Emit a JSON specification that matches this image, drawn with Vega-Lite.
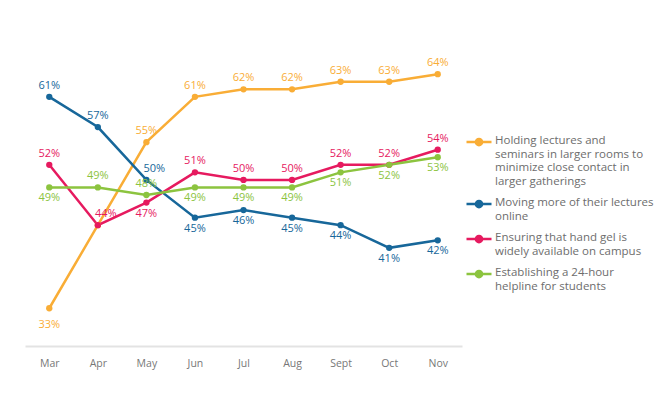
{
  "$schema": "https://vega.github.io/schema/vega-lite/v6.json",
  "width": 437,
  "height": 302,
  "autosize": "none",
  "padding": {"left": 25, "top": 44, "right": 200, "bottom": 47},
  "background": "white",
  "config": {"view": {"stroke": null}, "font": "Open Sans"},
  "data": {"values": [
    {"series": "Holding lectures and seminars in larger rooms to minimize close contact in larger gatherings", "month": "Mar", "value": 33},
    {"series": "Holding lectures and seminars in larger rooms to minimize close contact in larger gatherings", "month": "Apr", "value": 44},
    {"series": "Holding lectures and seminars in larger rooms to minimize close contact in larger gatherings", "month": "May", "value": 55},
    {"series": "Holding lectures and seminars in larger rooms to minimize close contact in larger gatherings", "month": "Jun", "value": 61},
    {"series": "Holding lectures and seminars in larger rooms to minimize close contact in larger gatherings", "month": "Jul", "value": 62},
    {"series": "Holding lectures and seminars in larger rooms to minimize close contact in larger gatherings", "month": "Aug", "value": 62},
    {"series": "Holding lectures and seminars in larger rooms to minimize close contact in larger gatherings", "month": "Sept", "value": 63},
    {"series": "Holding lectures and seminars in larger rooms to minimize close contact in larger gatherings", "month": "Oct", "value": 63},
    {"series": "Holding lectures and seminars in larger rooms to minimize close contact in larger gatherings", "month": "Nov", "value": 64},
    {"series": "Moving more of their lectures online", "month": "Mar", "value": 61},
    {"series": "Moving more of their lectures online", "month": "Apr", "value": 57},
    {"series": "Moving more of their lectures online", "month": "May", "value": 50},
    {"series": "Moving more of their lectures online", "month": "Jun", "value": 45},
    {"series": "Moving more of their lectures online", "month": "Jul", "value": 46},
    {"series": "Moving more of their lectures online", "month": "Aug", "value": 45},
    {"series": "Moving more of their lectures online", "month": "Sept", "value": 44},
    {"series": "Moving more of their lectures online", "month": "Oct", "value": 41},
    {"series": "Moving more of their lectures online", "month": "Nov", "value": 42},
    {"series": "Ensuring that hand gel is widely available on campus", "month": "Mar", "value": 52},
    {"series": "Ensuring that hand gel is widely available on campus", "month": "Apr", "value": 44},
    {"series": "Ensuring that hand gel is widely available on campus", "month": "May", "value": 47},
    {"series": "Ensuring that hand gel is widely available on campus", "month": "Jun", "value": 51},
    {"series": "Ensuring that hand gel is widely available on campus", "month": "Jul", "value": 50},
    {"series": "Ensuring that hand gel is widely available on campus", "month": "Aug", "value": 50},
    {"series": "Ensuring that hand gel is widely available on campus", "month": "Sept", "value": 52},
    {"series": "Ensuring that hand gel is widely available on campus", "month": "Oct", "value": 52},
    {"series": "Ensuring that hand gel is widely available on campus", "month": "Nov", "value": 54},
    {"series": "Establishing a 24-hour helpline for students", "month": "Mar", "value": 49},
    {"series": "Establishing a 24-hour helpline for students", "month": "Apr", "value": 49},
    {"series": "Establishing a 24-hour helpline for students", "month": "May", "value": 48},
    {"series": "Establishing a 24-hour helpline for students", "month": "Jun", "value": 49},
    {"series": "Establishing a 24-hour helpline for students", "month": "Jul", "value": 49},
    {"series": "Establishing a 24-hour helpline for students", "month": "Aug", "value": 49},
    {"series": "Establishing a 24-hour helpline for students", "month": "Sept", "value": 51},
    {"series": "Establishing a 24-hour helpline for students", "month": "Oct", "value": 52},
    {"series": "Establishing a 24-hour helpline for students", "month": "Nov", "value": 53}
  ]},
  "transform": [
    {"calculate": "datum.value + '%'", "as": "label"},
    {"calculate": "(datum.series[0] == 'H' && datum.month == 'Apr') ? 'none' : (datum.series[0] == 'H' && datum.month == 'Mar') ? 'far' : ((datum.series[0] == 'E' && datum.series[1] == 'n' && datum.month == 'Apr') || (datum.series[0] == 'M' && datum.month == 'May')) ? 'shift' : ((datum.series[0] == 'M' && indexof(['Jun','Jul','Aug','Sept','Oct','Nov'], datum.month) >= 0) || (datum.series[0] == 'E' && datum.series[1] == 'n' && datum.month == 'May') || (datum.series[0] == 'E' && datum.series[1] == 's' && indexof(['Mar','Jun','Jul','Aug','Sept','Oct','Nov'], datum.month) >= 0)) ? 'below' : 'above'", "as": "place"}
  ],
  "encoding": {
    "x": {
      "field": "month", "type": "ordinal",
      "sort": ["Mar", "Apr", "May", "Jun", "Jul", "Aug", "Sept", "Oct", "Nov"],
      "scale": {"type": "point", "padding": 0.5},
      "axis": {"title": null, "labelAngle": 0, "ticks": false, "grid": false, "domainColor": "#e3e3e3", "domainWidth": 2, "labelPadding": 12, "labelColor": "#777777", "labelFontSize": 10.5, "labelFont": "Open Sans"}
    },
    "y": {"field": "value", "type": "quantitative", "scale": {"domain": [28, 68]}, "axis": null},
    "color": {
      "field": "series", "type": "nominal",
      "scale": {
        "domain": ["Holding lectures and seminars in larger rooms to minimize close contact in larger gatherings", "Moving more of their lectures online", "Ensuring that hand gel is widely available on campus", "Establishing a 24-hour helpline for students"],
        "range": ["#F9AD36", "#17679A", "#E61A5F", "#8CC43F"]
      }
    }
  },
  "layer": [
    {
      "mark": {"type": "line", "strokeWidth": 2.5},
      "encoding": {
        "color": {
          "field": "series", "type": "nominal",
          "legend": {
            "title": null,
            "orient": "none",
            "legendX": 440,
            "legendY": 84,
            "symbolType": "M-1,0L1,0M0.25,0A0.25,0.25,0,1,1,-0.25,0A0.25,0.25,0,1,1,0.25,0Z",
            "symbolSize": 625,
            "symbolStrokeWidth": 2.5,
            "labelOffset": 2,
            "labelFont": "Open Sans",
            "labelFontSize": 11.5,
            "labelColor": "#6d6d6d",
            "labelBaseline": "top",
            "labelLimit": 300,
            "rowPadding": 3,
            "labelExpr": "datum.label == 'Moving more of their lectures online' ? ['Moving more of their lectures', 'online'] : datum.label == 'Ensuring that hand gel is widely available on campus' ? ['Ensuring that hand gel is', 'widely available on campus'] : datum.label == 'Establishing a 24-hour helpline for students' ? ['Establishing a 24-hour', 'helpline for students'] : ['Holding lectures and', 'seminars in larger rooms to', 'minimize close contact in', 'larger gatherings']",
            "encode": {"labels": {"update": {"dy": {"value": -7}, "lineHeight": {"value": 13.5}}}, "symbols": {"update": {"fillOpacity": {"value": 1}}}}
          }
        }
      }
    },
    {
      "mark": {"type": "point", "filled": true, "size": 40, "opacity": 1},
      "encoding": {"color": {"field": "series", "type": "nominal", "legend": null}}
    },
    {
      "transform": [{"filter": "datum.place == 'above'"}],
      "mark": {"type": "text", "baseline": "bottom", "dy": -6, "fontSize": 11, "font": "Open Sans"},
      "encoding": {
        "text": {"field": "label", "type": "nominal"},
        "color": {"field": "series", "type": "nominal", "legend": null}
      }
    },
    {
      "transform": [{"filter": "datum.place == 'shift'"}],
      "mark": {"type": "text", "baseline": "bottom", "dy": -6, "dx": 8, "fontSize": 11, "font": "Open Sans"},
      "encoding": {
        "text": {"field": "label", "type": "nominal"},
        "color": {"field": "series", "type": "nominal", "legend": null}
      }
    },
    {
      "transform": [{"filter": "datum.place == 'below'"}],
      "mark": {"type": "text", "baseline": "top", "dy": 5, "fontSize": 11, "font": "Open Sans"},
      "encoding": {
        "text": {"field": "label", "type": "nominal"},
        "color": {"field": "series", "type": "nominal", "legend": null}
      }
    },
    {
      "transform": [{"filter": "datum.place == 'far'"}],
      "mark": {"type": "text", "baseline": "top", "dy": 11, "fontSize": 11, "font": "Open Sans"},
      "encoding": {
        "text": {"field": "label", "type": "nominal"},
        "color": {"field": "series", "type": "nominal", "legend": null}
      }
    }
  ]
}
